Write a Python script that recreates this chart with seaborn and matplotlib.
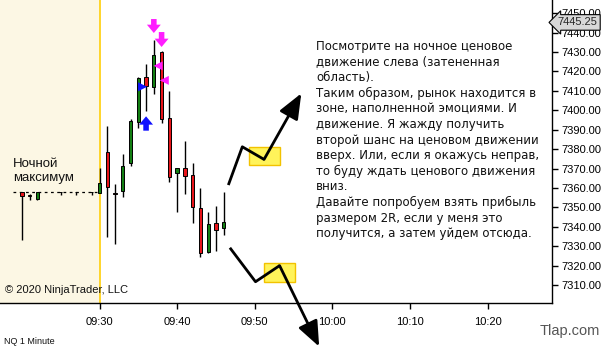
import matplotlib
matplotlib.use("Agg")
import matplotlib.pyplot as plt
import seaborn as sns
import numpy as np
import pandas as pd

# ---------------- data ----------------
# minutes relative to 09:30
minutes = [-10, -9, -8, -5, -3, -1, 0, 1, 2, 3, 4, 5, 6, 7, 8, 9, 10, 11, 12, 13, 14, 15, 16]
opens  = [7357.8, 7356.4, 7354.2, 7357.8, 7357.8, 7357.8, 7357.5, 7378.4, 7357.4, 7358.6, 7372.7, 7394.1,
          7417.0, 7412.1, 7429.8, 7396.2, 7367.5, 7370.1, 7366.7, 7349.5, 7326.9, 7341.8, 7339.2]
highs  = [7357.8, 7357.0, 7357.8, 7357.8, 7357.8, 7357.8, 7370.3, 7391.9, 7362.0, 7377.5, 7395.5, 7417.3,
          7423.8, 7436.2, 7430.5, 7410.1, 7370.1, 7384.2, 7372.7, 7359.8, 7347.8, 7350.7, 7357.8]
lows   = [7333.2, 7353.6, 7354.0, 7356.2, 7356.2, 7356.2, 7357.4, 7334.9, 7331.0, 7355.5, 7371.5, 7391.0,
          7399.8, 7408.2, 7393.3, 7363.2, 7347.5, 7356.7, 7342.1, 7324.3, 7326.3, 7327.7, 7335.8]
closes = [7355.8, 7355.6, 7357.8, 7357.8, 7357.8, 7357.8, 7362.7, 7360.3, 7357.0, 7371.3, 7394.5, 7416.5,
          7412.6, 7428.5, 7395.3, 7365.8, 7370.1, 7366.3, 7350.0, 7326.3, 7341.3, 7338.3, 7342.3]

night_high = 7357.8
last_price = 7445.25

x_ticks = [0, 10, 20, 30, 40, 50]
x_tick_labels = ["09:30", "09:40", "09:50", "10:00", "10:10", "10:20"]
y_ticks = list(range(7310, 7451, 10))

# signal markers
down_arrow_x = [7, 8]
down_arrow_top = [7447.0, 7440.3]
down_arrow_tip = [7439.8, 7432.6]
up_arrow_x = [6]
up_arrow_bottom = [7389.5]
up_arrow_tip = [7396.9]
left_tri_x = [7.55, 8.35]
left_tri_y = [7422.9, 7415.4]
right_tri_x = [5.55]
right_tri_y = [7412.1]

# scenario paths (minutes, price)
up_path_x = [16.6, 18.4, 21.2, 26.0]
up_path_y = [7361.5, 7381.2, 7374.7, 7408.7]
up_box = (19.2, 23.3, 7371.7, 7380.9)
dn_path_x = [16.8, 20.1, 23.2, 28.3]
dn_path_y = [7329.2, 7311.7, 7320.0, 7278.3]
dn_box = (21.15, 25.2, 7311.7, 7321.2)

note_lines = ["Посмотрите на ночное ценовое",
              "движение слева (затененная",
              "область).",
              "Таким образом, рынок находится в",
              "зоне, наполненной эмоциями. И",
              "движение. Я жажду получить",
              "второй шанс на ценовом движении",
              "вверх. Или, если я окажусь неправ,",
              "то буду ждать ценового движения",
              "вниз.",
              "Давайте попробуем взять прибыль",
              "размером 2R, если у меня это",
              "получится, а затем уйдем отсюда."]

# ---------------- style ----------------
sns.set_theme(style="white")
plt.rcParams['font.family'] = ['Liberation Sans', 'DejaVu Sans']

W, H = 606, 350
fig = plt.figure(figsize=(W / 100, H / 100), dpi=100)
ax = fig.add_axes([0, 1 - 303 / H, 552 / W, 303 / H])

xmin, xmax = -12.82, 58.3
ymin, ymax = 7300.75, 7456.8
ax.set_xlim(xmin, xmax)
ax.set_ylim(ymin, ymax)

# shaded night region
ax.axvspan(xmin, 0, color="#fcf7e4", zorder=0, lw=0)
ax.axvline(0, color="#ffd21a", lw=1.3, zorder=1)

# night high dashed line
ax.hlines(night_high, -11.2, 0, colors="black", linestyles=(0, (2.2, 2.8)), lw=0.9, zorder=1)

df = pd.DataFrame({"t": minutes, "o": opens, "h": highs, "l": lows, "c": closes})
df["bottom"] = df[["o", "c"]].min(axis=1)
df["height"] = (df["c"] - df["o"]).abs()
df["color"] = np.where(df["c"] >= df["o"], "#137f13", "#e8141a")

ax.vlines(df["t"], df["l"], df["h"], colors="black", lw=1.0, zorder=2)
ax.bar(df["t"], df["height"], bottom=df["bottom"], width=0.42, color=df["color"],
       edgecolor="black", linewidth=0.7, zorder=3)

# signal arrows
for x, y0, y1 in zip(down_arrow_x, down_arrow_top, down_arrow_tip):
    ax.annotate("", xy=(x, y1), xytext=(x, y0),
                arrowprops=dict(facecolor="#ff1dff", edgecolor="none", width=4,
                                headwidth=10, headlength=6, shrink=0), zorder=5)
for x, y0, y1 in zip(up_arrow_x, up_arrow_bottom, up_arrow_tip):
    ax.annotate("", xy=(x, y1), xytext=(x, y0),
                arrowprops=dict(facecolor="#1010ff", edgecolor="none", width=4,
                                headwidth=10, headlength=6, shrink=0), zorder=5)
sns.scatterplot(x=left_tri_x, y=left_tri_y, marker="<", s=42, color="#ff1dff",
                edgecolor="none", ax=ax, zorder=5, legend=False)
sns.scatterplot(x=right_tri_x, y=right_tri_y, marker=">", s=42, color="#1010ff",
                edgecolor="none", ax=ax, zorder=5, legend=False)

# scenario boxes
for (x0, x1, y0, y1) in (up_box, dn_box):
    ax.add_patch(plt.Rectangle((x0, y0), x1 - x0, y1 - y0, facecolor="#fff35a",
                               edgecolor="#f2c200", lw=1.0, zorder=4, clip_on=False))

# scenario paths
for px, py in ((up_path_x, up_path_y), (dn_path_x, dn_path_y)):
    ax.plot(px[:-1], py[:-1], color="black", lw=2.0, solid_capstyle="butt", zorder=6, clip_on=False)
    ax.annotate("", xy=(px[-1], py[-1]), xytext=(px[-2], py[-2]),
                arrowprops=dict(arrowstyle="-|>,head_length=1.1,head_width=0.45",
                                mutation_scale=14, color="black", lw=2.0,
                                shrinkA=0, shrinkB=0), zorder=6, annotation_clip=False)

# axes styling
for s in ("top", "left"):
    ax.spines[s].set_visible(False)
for s in ("right", "bottom"):
    ax.spines[s].set_visible(True)
    ax.spines[s].set_color("black")
    ax.spines[s].set_linewidth(1.0)

ax.yaxis.tick_right()
ax.set_yticks(y_ticks)
ax.set_yticklabels([f"{v:.2f}" for v in y_ticks])
ax.set_xticks(x_ticks)
ax.set_xticklabels(x_tick_labels)
ax.tick_params(axis="both", which="both", length=4, width=1, color="black",
               labelsize=8, labelcolor="black", direction="out")
ax.tick_params(axis="x", pad=6, bottom=True)
ax.tick_params(axis="y", pad=3, right=True, left=False)
ax.grid(False)

# current price label
ax.annotate(f"{last_price:.2f}", xy=(1.0, last_price), xycoords=("axes fraction", "data"),
            xytext=(4, 0), textcoords="offset points", va="center", ha="left", fontsize=8,
            bbox=dict(boxstyle="larrow,pad=0.25", facecolor="#d8d8d8", edgecolor="black", lw=0.8),
            annotation_clip=False, zorder=10)

# texts
ax.text(13 / 552, 1 - 171 / 303, "Ночной\nмаксимум", transform=ax.transAxes,
        fontsize=9.5, va="center", ha="left", linespacing=1.3, color="#111111")
ax.text(5 / 552, 1 - 290 / 303, "© 2020 NinjaTrader, LLC", transform=ax.transAxes,
        fontsize=8, va="center", ha="left", color="#111111")
first_baseline, pitch = 50.0, 15.6
for i, line in enumerate(note_lines):
    fig.text(316 / W, 1 - (first_baseline + i * pitch) / H, line, fontsize=8.5,
             va="baseline", ha="left", color="#111111", family=["DejaVu Sans"])
fig.text(4 / W, 1 - 341 / H, "NQ 1 Minute", fontsize=6.5, va="center", ha="left", color="#111111")
fig.text(600 / W, 1 - 331 / H, "Tlap.com", fontsize=10.5, va="center", ha="right", color="#555555")

fig.savefig("out.png", dpi=100)
